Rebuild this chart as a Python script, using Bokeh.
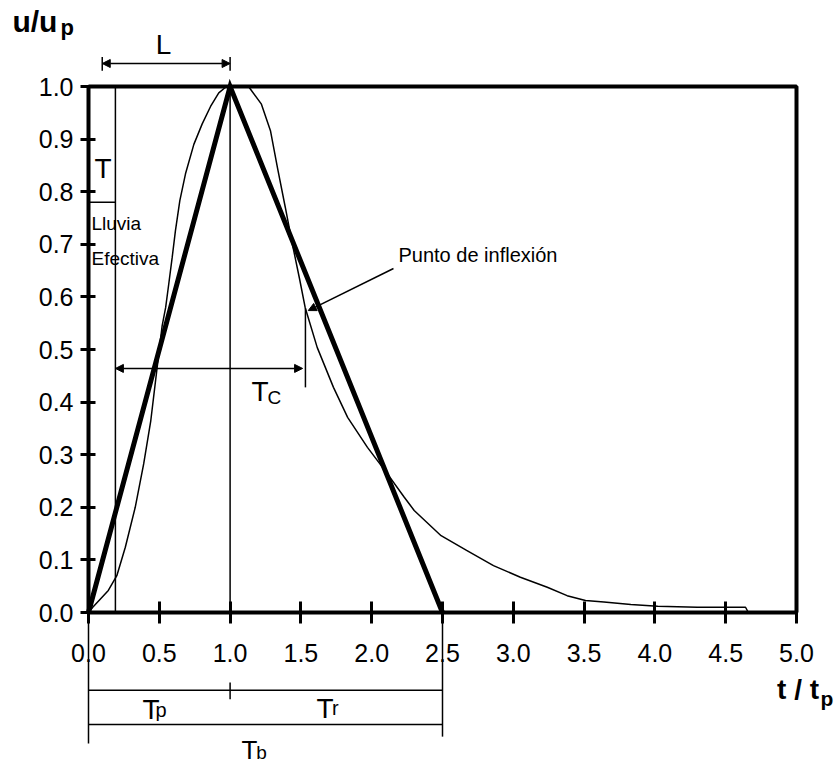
from bokeh.plotting import figure
from bokeh.models import Range1d, FixedTicker, Arrow, NormalHead, NumeralTickFormatter
from bokeh.core.properties import value
from bokeh.embed import file_html
from bokeh.resources import INLINE

# ---- data ----
t_curve = [0.0, 0.03, 0.14, 0.2, 0.26, 0.33, 0.39, 0.44, 0.48, 0.52, 0.545, 0.567,
           0.591, 0.614, 0.645, 0.685, 0.744, 0.803, 0.862, 0.92, 0.97, 1.05, 1.13,
           1.22, 1.285, 1.335, 1.39, 1.44, 1.49, 1.53, 1.615, 1.73, 1.83, 1.97,
           2.11, 2.23, 2.3, 2.49, 2.67, 2.86, 3.05, 3.24, 3.38, 3.51, 3.64, 3.83,
           4.02, 4.3, 4.64, 4.66, 5.0]
u_curve = [0.0, 0.01, 0.042, 0.07, 0.124, 0.2, 0.283, 0.365, 0.455, 0.545, 0.58,
           0.625, 0.675, 0.726, 0.783, 0.834, 0.89, 0.929, 0.962, 0.988, 0.999,
           1.0, 1.0, 0.967, 0.916, 0.845, 0.77, 0.70, 0.635, 0.58, 0.504, 0.428,
           0.371, 0.314, 0.264, 0.219, 0.194, 0.146, 0.118, 0.089, 0.067, 0.048,
           0.032, 0.023, 0.02, 0.015, 0.012, 0.01, 0.01, 0.0, 0.0]
tri_t = [0.0, 1.0, 2.5]
tri_u = [0.0, 1.0, 0.0]

x_ticks = [0.0, 0.5, 1.0, 1.5, 2.0, 2.5, 3.0, 3.5, 4.0, 4.5, 5.0]
x_tick_labels = ["0.0", "0.5", "1.0", "1.5", "2.0", "2.5", "3.0", "3.5", "4.0", "4.5", "5.0"]
y_ticks = [0.0, 0.1, 0.2, 0.3, 0.4, 0.5, 0.6, 0.7, 0.8, 0.9, 1.0]
y_tick_labels = ["0.0", "0.1", "0.2", "0.3", "0.4", "0.5", "0.6", "0.7", "0.8", "0.9", "1.0"]

t_peak = 1.0        # Tp
t_base = 2.5        # Tb
t_rain = 0.19       # end of effective rainfall
u_rain = 0.78
t_inflex = 1.532    # inflection point (end of Tc)
u_tc = 0.464
x_max, y_max = 5.0, 1.0

# ---- layout ----
W, H = 835, 765
px0, py0, sx, sy = 88.0, 612.0, 141.6, 526.0

p = figure(width=W, height=H, output_backend="svg", toolbar_location=None,
           x_range=Range1d(-px0 / sx, (W - px0) / sx),
           y_range=Range1d(-(H - py0) / sy, py0 / sy),
           min_border=0, min_border_left=0, min_border_right=0,
           min_border_top=0, min_border_bottom=0)
p.outline_line_color = None
p.grid.visible = False
p.background_fill_color = "white"
p.border_fill_color = "white"

SANS = "Liberation Sans"

for ax, ticks, labels, bounds in ((p.xaxis, x_ticks, x_tick_labels, (0, x_max)),
                                  (p.yaxis, y_ticks, y_tick_labels, (0, y_max))):
    ax.fixed_location = 0.0
    ax.bounds = bounds
    ax.ticker = FixedTicker(ticks=ticks)
    ax.formatter = NumeralTickFormatter(format="0.0")
    ax.major_label_overrides = {t: l for t, l in zip(ticks, labels)}
    ax.axis_line_width = 4
    ax.axis_line_color = "black"
    ax.major_tick_line_width = 3
    ax.major_tick_line_color = "black"
    ax.minor_tick_line_color = None
    ax.major_label_text_font = SANS
    ax.major_label_text_font_size = "25px"
    ax.major_label_text_color = "black"

p.xaxis.major_tick_in = 11
p.xaxis.major_tick_out = 11
p.xaxis.major_label_standoff = 20
p.yaxis.major_tick_in = 7
p.yaxis.major_tick_out = 8
p.yaxis.major_label_standoff = 7

# frame top / right border
p.line(x=[0, x_max, x_max], y=[y_max, y_max, 0], line_color="black", line_width=4)

# reference lines
p.line(x=[t_peak, t_peak], y=[0, y_max], line_color="black", line_width=1.5)
p.line(x=[t_rain, t_rain], y=[0, y_max], line_color="black", line_width=1.5)
p.line(x=[0, t_rain], y=[u_rain, u_rain], line_color="black", line_width=1.5)

# curves
p.line(x=t_curve, y=u_curve, line_color="black", line_width=1.5)
p.line(x=tri_t, y=tri_u, line_color="black", line_width=5, line_join="miter")

def head():
    return NormalHead(size=8, fill_color="black", line_color="black", line_width=1)

# L arrow
yL = 1.0437
p.add_layout(Arrow(x_start=0.097, y_start=yL, x_end=t_peak, y_end=yL,
                   start=head(), end=head(), line_width=1.5))
p.segment(x0=[0.097, t_peak], y0=[1.030, 1.030], x1=[0.097, t_peak], y1=[1.056, 1.056],
          line_color="black", line_width=1.5)

# Tc arrow
p.add_layout(Arrow(x_start=t_rain, y_start=u_tc, x_end=t_inflex - 0.02, y_end=u_tc,
                   start=head(), end=head(), line_width=1.5))
p.line(x=[t_inflex, t_inflex], y=[0.428, 0.578], line_color="black", line_width=1.5)

# inflection leader
p.add_layout(Arrow(x_start=2.154, y_start=0.654, x_end=1.552, y_end=0.574,
                   end=head(), line_width=1.5))

# bottom brackets
yTpr, yTb = -0.148, -0.213
p.line(x=[0, t_base], y=[yTpr, yTpr], line_color="black", line_width=1.5)
p.line(x=[0, t_base], y=[yTb, yTb], line_color="black", line_width=1.5)
p.line(x=[t_peak, t_peak], y=[-0.133, -0.165], line_color="black", line_width=1.5)
p.line(x=[0, 0], y=[0, -0.249], line_color="black", line_width=1.5)
p.line(x=[t_base, t_base], y=[0, -0.236], line_color="black", line_width=1.5)

SHIFT = 9.0 / sy   # baseline correction

def txt(x, y, s, size, font=SANS, style="normal", align="left"):
    p.text(x=[x], y=[y + SHIFT], text=[s], text_font=value(font), text_font_size=size,
           text_font_style=style, text_align=align, text_baseline="alphabetic",
           text_color="black")

txt(0.53, 1.0627, "L", "28px", align="center")
txt(0.102, 0.827, "T", "28px", align="center")
txt(0.021, 0.7224, "Lluvia", "19px")
txt(0.021, 0.656, "Efectiva", "19px")
txt(2.189, 0.663, "Punto de inflexión", "20px")

# T subscripts
txt(1.151, 0.403, "T", "28px")
txt(1.264, 0.392, "C", "19px")
txt(0.381, -0.2015, "T", "28px")
txt(0.473, -0.2034, "p", "20px")
txt(1.61, -0.199, "T", "28px")
txt(1.72, -0.199, "r", "20px")
txt(1.08, -0.2776, "T", "26px")
txt(1.185, -0.2833, "b", "19px")

# axis titles
txt(-0.537, 1.1065, "u/u", "30px", style="bold")
txt(-0.198, 1.095, "p", "22px", style="bold")
txt(4.863, -0.1635, "t / t", "28px", style="bold")
txt(5.17, -0.18, "p", "21px", style="bold")

open("out.html", "w").write(file_html(p, INLINE))
